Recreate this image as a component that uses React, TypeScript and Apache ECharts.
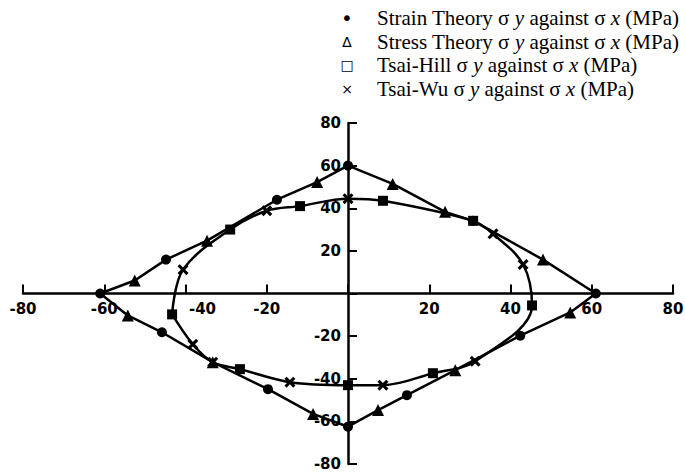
import React, { useEffect, useRef } from "react";
import * as echarts from "echarts";

// Failure envelopes, σx (MPa) against σy (MPa)
const strainTheory: [number, number][] = [
  [-61, 0], [-44.8, 15.9], [-17.5, 44], [0, 60], [30.8, 34.1], [61, 0],
  [42.4, -19.8], [14.5, -47.7], [0, -62.5], [-19.7, -44.9], [-45.8, -18.2],
];
const stressTheory: [number, number][] = [
  [-52.5, 6.1], [-34.7, 24.8], [-7.6, 52.3], [11, 51.4], [23.9, 38.3], [48, 15.9],
  [54.7, -8.9], [26.4, -36], [7.4, -54.7], [-8.6, -56.5], [-33.3, -32.2], [-54.2, -10.3],
];
const tsaiHill: [number, number][] = [
  [-29, 30], [-11.8, 41], [8.6, 43.5], [30.8, 34.1], [45.3, -5.6],
  [20.9, -37.4], [0, -43], [-26.6, -35.5], [-43.3, -9.8],
];
const tsaiWu: [number, number][] = [
  [-40.6, 11.2], [-20, 38.8], [0, 44.5], [35.7, 28], [43.1, 13.6],
  [31.3, -31.8], [8.6, -43], [-14.3, -41.6], [-33.3, -32.2], [-38.2, -23.8],
];

const AXIS_MIN = -80;
const AXIS_MAX = 80;
const AXIS_STEP = 20;

const legendItems = [
  { symbol: "•", name: "Strain Theory" },
  { symbol: "∆", name: "Stress Theory" },
  { symbol: "□", name: "Tsai-Hill" },
  { symbol: "×", name: "Tsai-Wu" },
];

const CROSS =
  "path://M0,2L2,0L5,3L8,0L10,2L7,5L10,8L8,10L5,7L2,10L0,8L3,5Z";

// plot area
const W = 685;
const H = 474;
const GRID = { left: 23, right: 12, top: 123, bottom: 10 };
const plotW = W - GRID.left - GRID.right;
const plotH = H - GRID.top - GRID.bottom;

// closed outline through a set of points, ordered by polar angle
function closedLoop(...sets: [number, number][][]) {
  const pts = sets
    .flat()
    .slice()
    .sort((a, b) => Math.atan2(a[1], a[0]) - Math.atan2(b[1], b[0]));
  return [...pts, pts[0]];
}

const serif = "'Liberation Serif', 'Times New Roman', serif";
const labelFont = {
  color: "#000",
  fontFamily: "'DejaVu Sans', sans-serif",
  fontWeight: "bold" as const,
  fontSize: 15,
};

export default function App() {
  const ref = useRef<HTMLDivElement>(null);

  useEffect(() => {
    if (!ref.current) return;
    const chart = echarts.init(ref.current, null, { renderer: "svg" });

    const axisCommon = {
      type: "value" as const,
      min: AXIS_MIN,
      max: AXIS_MAX,
      interval: AXIS_STEP,
      splitLine: { show: false },
      axisLine: { onZero: false, lineStyle: { color: "#000", width: 2.5 } },
      axisTick: { show: true, inside: true, length: 9, lineStyle: { color: "#000", width: 2 } },
    };

    const legendGraphics = legendItems.flatMap((item, i) => {
      const y = 18 + i * 23.5;
      return [
        {
          type: "text",
          x: 347,
          y,
          style: {
            text: item.symbol,
            fill: "#000",
            font: i === 0 ? `20px 'DejaVu Sans', sans-serif` : `14px 'DejaVu Sans', sans-serif`,
            align: "center",
            verticalAlign: "middle",
          },
        },
        {
          type: "text",
          x: 377,
          y,
          style: {
            text: `{n|${item.name} σ }{i|y}{n| against σ }{i|x}{n| (MPa)}`,
            fill: "#000",
            verticalAlign: "middle",
            rich: {
              n: { fontFamily: serif, fontSize: 21, fill: "#000" },
              i: { fontFamily: serif, fontSize: 21, fontStyle: "italic", fill: "#000" },
            },
          },
        },
      ];
    });

    chart.setOption({
      animation: false,
      backgroundColor: "#fff",
      grid: { ...GRID, containLabel: false, outerBoundsMode: "none" },
      // axes cross at the origin (centre of the symmetric range)
      xAxis: {
        ...axisCommon,
        position: "bottom",
        offset: -plotH / 2,
        axisLabel: {
          ...labelFont,
          margin: 8,
          // the -40 label sits to the right of its tick, clear of the envelope
          formatter: (v: number) =>
            v === 0 ? "" : v === -40 ? `{shift|${v}}` : String(v),
          rich: { shift: { ...labelFont, padding: [0, 0, 0, 34] } },
        },
      },
      yAxis: {
        ...axisCommon,
        position: "left",
        offset: -plotW / 2,
        axisLabel: {
          ...labelFont,
          margin: 7,
          formatter: (v: number) => (v === 0 ? "" : String(v)),
        },
      },
      graphic: legendGraphics,
      series: [
        {
          type: "line",
          name: "Maximum stress / strain envelope",
          data: closedLoop(strainTheory, stressTheory),
          symbol: "none",
          lineStyle: { color: "#000", width: 2.5 },
          z: 2,
        },
        {
          type: "line",
          name: "Tsai envelope",
          data: closedLoop(tsaiHill, tsaiWu),
          smooth: 0.35,
          symbol: "none",
          lineStyle: { color: "#000", width: 2.5 },
          z: 2,
        },
        {
          type: "scatter",
          name: "Strain Theory σy against σx (MPa)",
          data: strainTheory,
          symbol: "circle",
          symbolSize: 10,
          itemStyle: { color: "#000", opacity: 1 },
          z: 3,
        },
        {
          type: "scatter",
          name: "Stress Theory σy against σx (MPa)",
          data: stressTheory,
          symbol: "triangle",
          symbolSize: 12,
          itemStyle: { color: "#000", opacity: 1 },
          z: 3,
        },
        {
          type: "scatter",
          name: "Tsai-Hill σy against σx (MPa)",
          data: tsaiHill,
          symbol: "rect",
          symbolSize: 10,
          itemStyle: { color: "#000", opacity: 1 },
          z: 3,
        },
        {
          type: "scatter",
          name: "Tsai-Wu σy against σx (MPa)",
          data: tsaiWu,
          symbol: CROSS,
          symbolSize: 11,
          itemStyle: { color: "#000", opacity: 1 },
          z: 3,
        },
      ],
    });

    return () => chart.dispose();
  }, []);

  return (
    <div
      ref={ref}
      style={{ position: "fixed", left: 0, top: 0, width: W, height: H, background: "#fff" }}
    />
  );
}
